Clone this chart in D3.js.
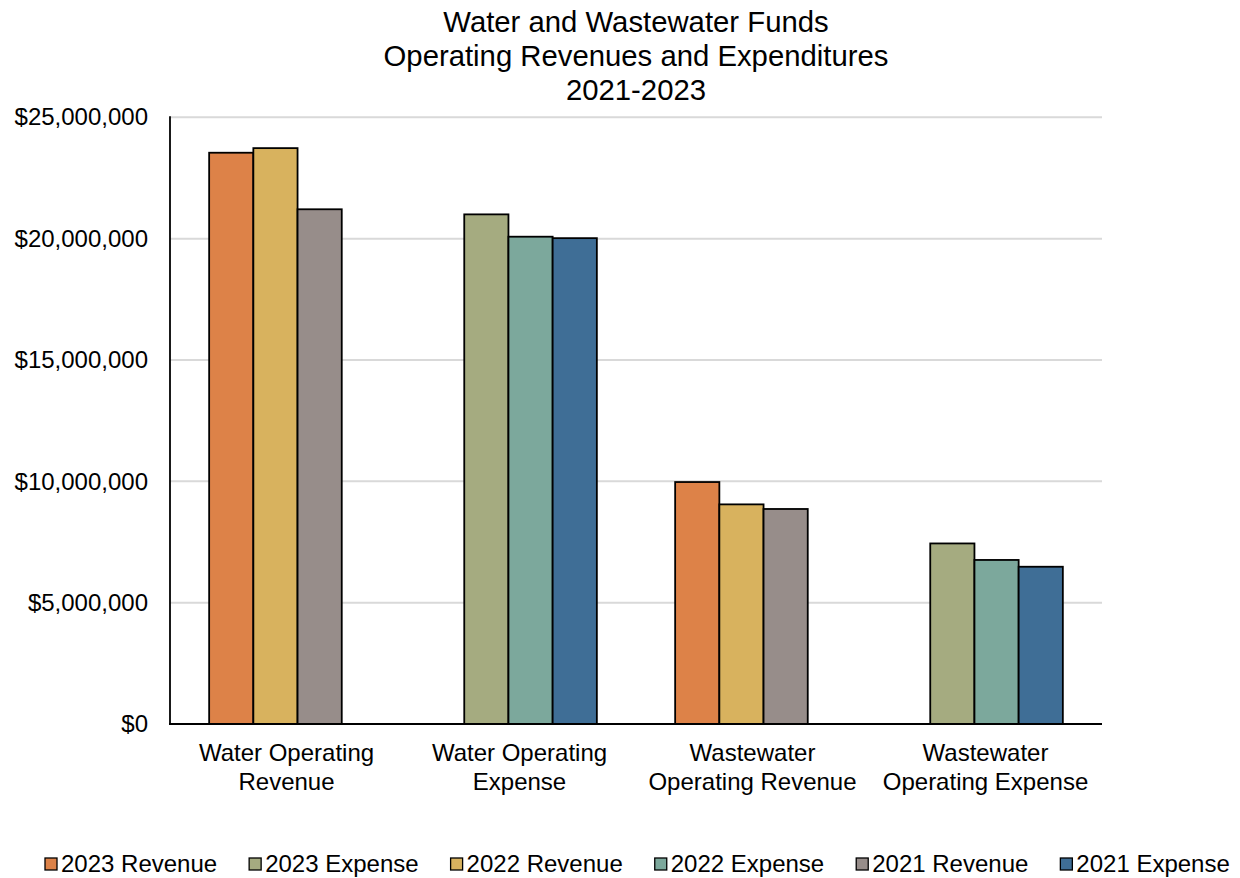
<!DOCTYPE html>
<html><head><meta charset="utf-8">
<script src="https://cdn.jsdelivr.net/npm/d3@7"></script>
<style>
html,body{margin:0;padding:0;background:#fff;}
svg{display:block;font-family:"Liberation Sans",Arial,sans-serif;}
</style></head>
<body>
<svg id="chart" width="1240" height="878"></svg>
<script>
const titleLines = ["Water and Wastewater Funds", "Operating Revenues and Expenditures", "2021-2023"];
const categories = ["Water Operating Revenue", "Water Operating Expense", "Wastewater Operating Revenue", "Wastewater Operating Expense"];
const categoryLines = [["Water Operating", "Revenue"], ["Water Operating", "Expense"], ["Wastewater", "Operating Revenue"], ["Wastewater", "Operating Expense"]];
const seriesNames = ["2023 Revenue", "2023 Expense", "2022 Revenue", "2022 Expense", "2021 Revenue", "2021 Expense"];
const seriesColors = ["#dd8248", "#a5ab80", "#d8b25e", "#7ca89c", "#978d8a", "#3f6e96"];
const rev2023 = [23540000, null, 9970000, null];
const exp2023 = [null, 21000000, null, 7440000];
const rev2022 = [23730000, null, 9050000, null];
const exp2022 = [null, 20080000, null, 6760000];
const rev2021 = [21210000, null, 8860000, null];
const exp2021 = [null, 20020000, null, 6480000];
const seriesValues = [rev2023, exp2023, rev2022, exp2022, rev2021, exp2021];
const yTicks = [0, 5000000, 10000000, 15000000, 20000000, 25000000];

const svg = d3.select("#chart");
const m = {left: 170, right: 1102, top: 117.3, bottom: 724};

const x = d3.scaleBand().domain(categories).range([m.left, m.right]).padding(0);
const y = d3.scaleLinear().domain([0, 25000000]).range([m.bottom, m.top]);

const barW = 44.2;
const step = barW / 2; // 50% overlap
const clusterW = barW + step * (seriesNames.length - 1);
const slot = d3.scaleLinear().domain([0, seriesNames.length - 1]).range([0, step * (seriesNames.length - 1)]);

// gridlines
svg.append("g").selectAll("line").data(yTicks.filter(d => d > 0)).join("line")
  .attr("x1", m.left).attr("x2", m.right)
  .attr("y1", d => y(d)).attr("y2", d => y(d))
  .attr("stroke", "#d9d9d9").attr("stroke-width", 2);

// y axis labels
const fmt = d => "$" + d3.format(",")(d);
const yAxis = d3.axisLeft(y).tickValues(yTicks).tickFormat(fmt).tickSize(0).tickPadding(22);
const ya = svg.append("g").attr("transform", `translate(${m.left},0)`).call(yAxis);
ya.select(".domain").remove();
ya.selectAll("text").attr("font-size", 24).attr("fill", "#000").attr("font-family", "Liberation Sans, Arial, sans-serif");

// bars
seriesValues.forEach((vals, si) => {
  svg.append("g").selectAll("rect")
    .data(vals.map((v, ci) => ({v, c: categories[ci]})).filter(d => d.v != null))
    .join("rect")
    .attr("x", d => x(d.c) + (x.bandwidth() - clusterW) / 2 + slot(si))
    .attr("y", d => y(d.v))
    .attr("width", barW)
    .attr("height", d => y(0) - y(d.v))
    .attr("fill", seriesColors[si])
    .attr("stroke", "#000").attr("stroke-width", 1.8);
});

// axes lines
svg.append("line").attr("x1", m.left).attr("x2", m.left).attr("y1", m.top - 1).attr("y2", m.bottom)
  .attr("stroke", "#000").attr("stroke-width", 1.8);
svg.append("line").attr("x1", m.left - 1).attr("x2", m.right).attr("y1", m.bottom).attr("y2", m.bottom)
  .attr("stroke", "#000").attr("stroke-width", 1.8);

// category labels
const cg = svg.append("g");
categories.forEach((c, i) => {
  const t = cg.append("text").attr("text-anchor", "middle").attr("font-size", 24).attr("fill", "#000");
  categoryLines[i].forEach((ln, j) => {
    t.append("tspan").attr("x", x(c) + x.bandwidth() / 2).attr("y", 761 + j * 29).text(ln);
  });
});

// title
const tcx = (m.left + m.right) / 2;
svg.append("g").selectAll("text").data(titleLines).join("text")
  .attr("x", tcx).attr("y", (d, i) => 32 + i * 34)
  .attr("text-anchor", "middle").attr("font-size", 29.3).attr("fill", "#000")
  .text(d => d);

// legend
const lg = svg.append("g");
let lx = 45;
seriesNames.forEach((n, i) => {
  lg.append("rect").attr("x", lx).attr("y", 858).attr("width", 12).attr("height", 12)
    .attr("fill", seriesColors[i]).attr("stroke", "#000").attr("stroke-width", 1.3);
  const t = lg.append("text").attr("x", lx + 16).attr("y", 872).attr("font-size", 24).attr("fill", "#000").text(n);
  const w = t.node().getComputedTextLength();
  lx = lx + 16 + w + 32;
});
</script>
</body></html>
